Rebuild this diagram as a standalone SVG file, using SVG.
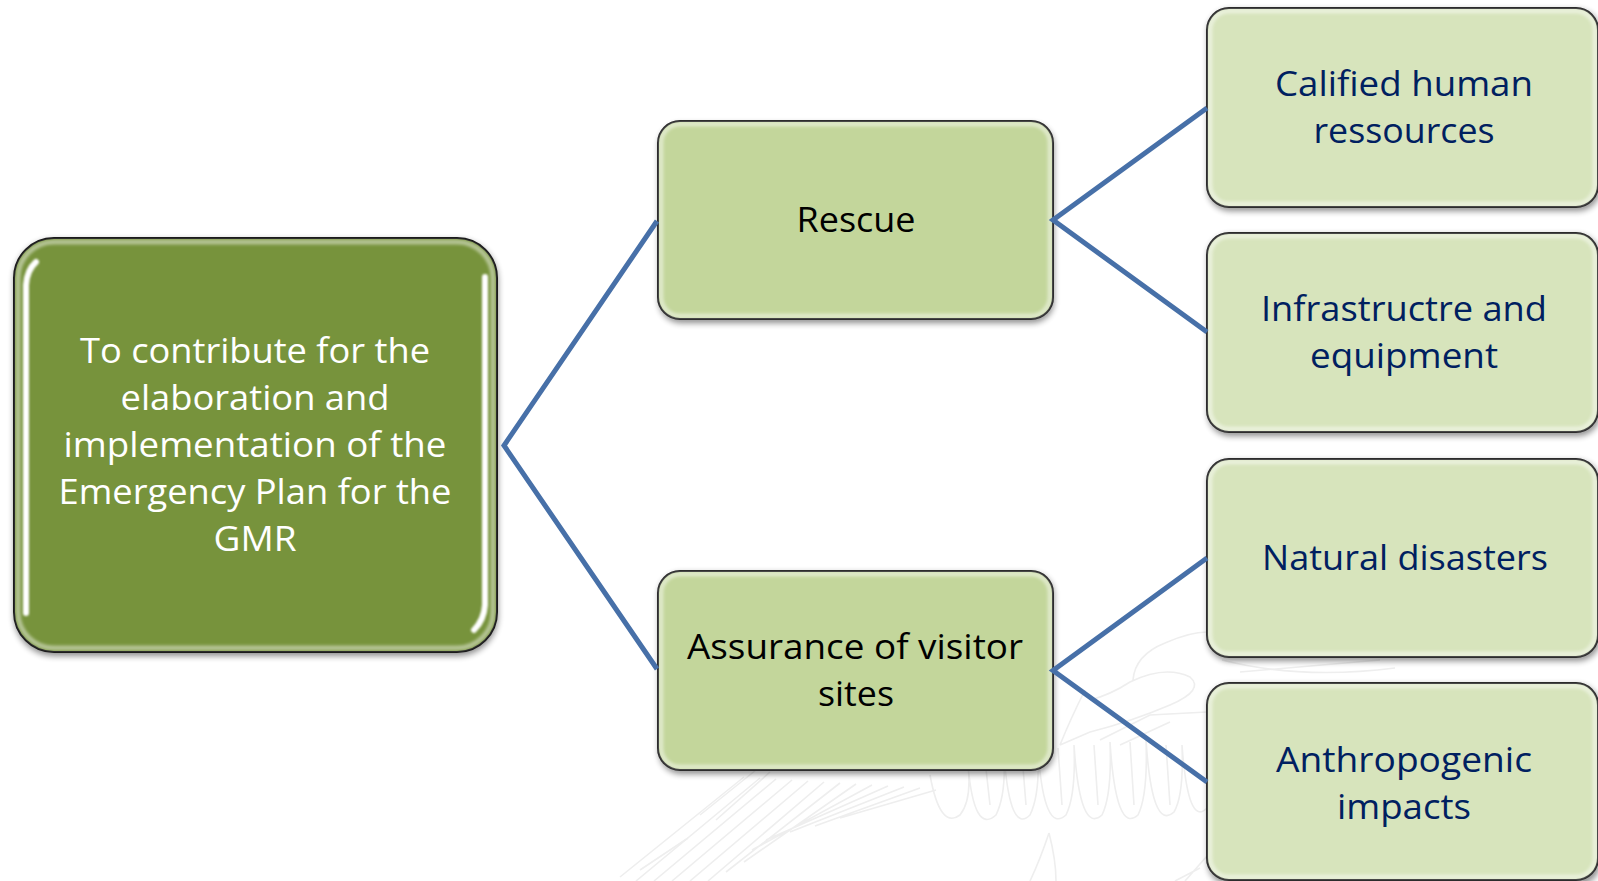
<svg xmlns="http://www.w3.org/2000/svg" width="1598" height="881" viewBox="0 0 1598 881">
<style>
text{font-family:"Open Sans","Noto Sans","Liberation Sans",sans-serif;font-size:35px;text-anchor:middle}
.w{fill:#fff}.k{fill:#000}.n{fill:#002060}
.box{stroke:#111;stroke-width:2}
.shadow{fill:#000;opacity:.45;filter:url(#blur4)}
.glow{fill:none;stroke:#fff;stroke-width:5;opacity:.45;filter:url(#blur2)}
.bar{fill:none;stroke:#fff;stroke-width:6;stroke-linecap:round;filter:url(#blur1)}
.conn{fill:none;stroke:#4770A8;stroke-width:5;stroke-linejoin:miter}
.wm{fill:none;stroke:#eeeeee;stroke-width:1.6}
</style>
<defs>
<filter id="blur1" x="-50%" y="-10%" width="200%" height="120%"><feGaussianBlur stdDeviation="0.9"/></filter>
<filter id="blur2" x="-5%" y="-5%" width="110%" height="110%"><feGaussianBlur stdDeviation="1.6"/></filter>
<filter id="blur4" x="-5%" y="-5%" width="110%" height="115%"><feGaussianBlur stdDeviation="3"/></filter>
</defs>
<rect width="1598" height="881" fill="#fff"/>
<g id="watermark" class="wm">
<path d="M744 777L620 877M760 778L636 881M776 779L654 881M792 780L672 881M808 781L690 881M824 782L708 881M840 783L726 872M856 784L744 862M872 785L752 850M888 786L766 840M904 787L790 832M920 788L815 826M936 790L840 818"/>
<path d="M700 815L756 770M716 820L770 772M688 838L640 870"/>
<path d="M930 775Q940 830 960 815Q972 800 968 765Q974 835 996 815Q1006 795 1004 755Q1010 835 1030 815Q1040 795 1038 750Q1044 835 1066 815Q1076 795 1074 745Q1080 835 1102 815Q1112 795 1110 742Q1116 835 1138 815Q1148 795 1146 740Q1152 832 1174 812Q1184 795 1182 745Q1188 828 1207 808"/>
<path d="M985 760L990 805M1022 755L1026 805M1058 748L1062 805M1094 745L1098 805M1130 742L1134 805M1166 745L1170 805"/>
<path d="M1133 680Q1135 655 1165 643Q1190 632 1207 632M1090 700Q1110 695 1130 682Q1165 665 1190 677Q1205 690 1170 705Q1130 722 1090 732L1060 745M1085 690Q1070 720 1060 745"/>
<path d="M1100 740L1150 715L1207 712M1120 745L1170 722"/>
<path d="M1222 660Q1300 680 1395 668M1240 672L1380 660"/>
<path d="M1049 833Q1040 860 1030 881M1049 833Q1056 860 1056 881M1200 868L1175 881M1207 856L1185 881"/>
</g>
<g id="node-main">
<rect class="shadow" x="14" y="240" width="484" height="416" rx="40"/>
<rect class="box" x="14" y="238" width="483" height="414" rx="40" fill="#77933C"/>
<rect class="glow" x="18" y="242" width="475" height="406" rx="36" opacity=".35"/>
<path class="bar" d="M36 262Q27 270 26 285L26 613"/>
<path class="bar" d="M485 277L485 605Q484 620 474 630"/>
<text class="w" x="255" y="363" textLength="350" lengthAdjust="spacingAndGlyphs">To contribute for the</text>
<text class="w" x="255" y="410" textLength="269" lengthAdjust="spacingAndGlyphs">elaboration and</text>
<text class="w" x="255" y="457" textLength="383" lengthAdjust="spacingAndGlyphs">implementation of the</text>
<text class="w" x="255" y="504" textLength="393" lengthAdjust="spacingAndGlyphs">Emergency Plan for the</text>
<text class="w" x="255" y="551" textLength="83" lengthAdjust="spacingAndGlyphs">GMR</text>
</g>
<g id="node-rescue">
<rect class="shadow" x="659" y="124" width="395" height="199" rx="22"/>
<rect class="box" x="658" y="121" width="395" height="198" rx="22" fill="#C3D69B"/>
<rect class="glow" x="661" y="124" width="389" height="192" rx="19"/>
<path class="bar" d="M670 139L670 298"/>
<path class="bar" d="M1042 142L1042 302"/>
<text class="k" x="856" y="232" textLength="119" lengthAdjust="spacingAndGlyphs">Rescue</text>
</g>
<g id="node-assurance">
<rect class="shadow" x="659" y="573" width="395" height="201" rx="22"/>
<rect class="box" x="658" y="571" width="395" height="199" rx="22" fill="#C3D69B"/>
<rect class="glow" x="661" y="574" width="389" height="193" rx="19"/>
<path class="bar" d="M670 589L670 749"/>
<path class="bar" d="M1042 592L1042 753"/>
<text class="k" x="855" y="659" textLength="336" lengthAdjust="spacingAndGlyphs">Assurance of visitor</text>
<text class="k" x="856" y="706" textLength="76" lengthAdjust="spacingAndGlyphs">sites</text>
</g>
<g id="node-calified">
<rect class="shadow" x="1208" y="10" width="392" height="201" rx="22"/>
<rect class="box" x="1207" y="8" width="391" height="199" rx="22" fill="#D7E4BC"/>
<rect class="glow" x="1210" y="11" width="385" height="193" rx="19"/>
<path class="bar" d="M1219 25L1219 186"/>
<path class="bar" d="M1591 29L1591 191"/>
<text class="n" x="1404" y="96" textLength="258" lengthAdjust="spacingAndGlyphs">Calified human</text>
<text class="n" x="1404" y="143" textLength="181" lengthAdjust="spacingAndGlyphs">ressources</text>
</g>
<g id="node-infrastructure">
<rect class="shadow" x="1208" y="235" width="392" height="201" rx="22"/>
<rect class="box" x="1207" y="233" width="391" height="199" rx="22" fill="#D7E4BC"/>
<rect class="glow" x="1210" y="236" width="385" height="193" rx="19"/>
<path class="bar" d="M1219 250L1219 411"/>
<path class="bar" d="M1591 254L1591 416"/>
<text class="n" x="1404" y="321" textLength="286" lengthAdjust="spacingAndGlyphs">Infrastructre and</text>
<text class="n" x="1404" y="368" textLength="188" lengthAdjust="spacingAndGlyphs">equipment</text>
</g>
<g id="node-natural">
<rect class="shadow" x="1208" y="461" width="392" height="200" rx="22"/>
<rect class="box" x="1207" y="459" width="391" height="198" rx="22" fill="#D7E4BC"/>
<rect class="glow" x="1210" y="462" width="385" height="192" rx="19"/>
<path class="bar" d="M1219 476L1219 637"/>
<path class="bar" d="M1591 480L1591 641"/>
<text class="n" x="1405" y="570" textLength="286" lengthAdjust="spacingAndGlyphs">Natural disasters</text>
</g>
<g id="node-anthropogenic">
<rect class="shadow" x="1208" y="685" width="392" height="200" rx="22"/>
<rect class="box" x="1207" y="683" width="391" height="197" rx="22" fill="#D7E4BC"/>
<rect class="glow" x="1210" y="686" width="385" height="191" rx="19"/>
<path class="bar" d="M1219 700L1219 861"/>
<path class="bar" d="M1591 704L1591 865"/>
<text class="n" x="1404" y="772" textLength="256" lengthAdjust="spacingAndGlyphs">Anthropogenic</text>
<text class="n" x="1404" y="819" textLength="134" lengthAdjust="spacingAndGlyphs">impacts</text>
</g>
<g id="connectors" class="conn">
<path d="M658 221L505 445.500L658 669" transform="translate(-1 0)" stroke-width="5"/>
<path d="M1207 108L1053 220L1207 332"/>
<path d="M1207 558L1053 670.500L1207 782"/>
</g>
</svg>
